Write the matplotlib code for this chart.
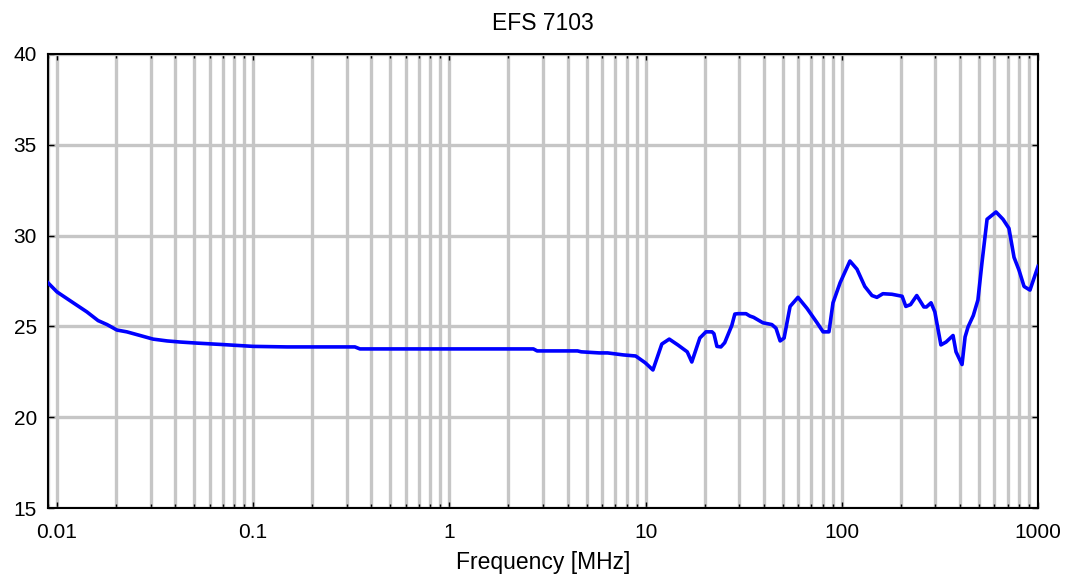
import matplotlib
matplotlib.use("Agg")
import matplotlib.pyplot as plt
from matplotlib.ticker import LogLocator, FixedLocator, NullFormatter

plt.rcParams['font.family'] = ['Liberation Sans', 'DejaVu Sans']

title = "EFS 7103"
xlabel = "Frequency [MHz]"

freq = [0.009, 0.01, 0.0121, 0.0142, 0.0162, 0.018, 0.0202, 0.0227, 0.0265, 0.0309,
        0.0364, 0.0424, 0.0517, 0.070, 0.0999, 0.149, 0.277, 0.33, 0.35, 2.68,
        2.8, 4.5, 4.7, 5.8, 6.4, 7.7, 8.9, 9.95, 10.9, 12.1,
        13.2, 14.6, 16.3, 17.2, 18.9, 20.3, 21.8, 22.3, 23.1, 24.2,
        25.3, 27.5, 28.5, 29.5, 32.5, 34.0, 35.5, 39.6, 44.0, 46.2,
        48.5, 50.8, 54.5, 59.8, 66.5, 74.8, 80.3, 86.0, 90.2, 98.0,
        110, 119.5, 131, 142.5, 151, 162, 180, 203, 212, 224,
        241, 262, 270, 285, 298, 320, 340, 369, 382, 410,
        425, 440, 468, 494, 518, 550, 611, 663, 711, 755,
        800, 849, 910, 1000]
level = [27.4, 26.9, 26.3, 25.8, 25.32, 25.1, 24.8, 24.7, 24.5, 24.3,
         24.2, 24.14, 24.08, 24.0, 23.9, 23.87, 23.87, 23.87, 23.76, 23.76,
         23.65, 23.65, 23.6, 23.54, 23.54, 23.43, 23.37, 23.0, 22.6, 24.03,
         24.3, 23.98, 23.6, 23.04, 24.36, 24.7, 24.7, 24.6, 23.9, 23.87,
         24.1, 25.05, 25.68, 25.7, 25.7, 25.57, 25.5, 25.2, 25.1, 24.9,
         24.2, 24.36, 26.1, 26.6, 25.99, 25.2, 24.7, 24.7, 26.3, 27.4,
         28.6, 28.15, 27.2, 26.7, 26.6, 26.8, 26.77, 26.66, 26.1, 26.2,
         26.7, 26.07, 26.07, 26.3, 25.8, 23.98, 24.14, 24.5, 23.6, 22.9,
         24.42, 24.97, 25.6, 26.45, 28.5, 30.9, 31.3, 30.9, 30.4, 28.8,
         28.1, 27.2, 27.0, 28.3]

xticks = [0.01, 0.1, 1, 10, 100, 1000]
xticklabels = ["0.01", "0.1", "1", "10", "100", "1000"]
yticks = [15, 20, 25, 30, 35, 40]

fig = plt.figure(figsize=(10.67, 5.74), dpi=100)
ax = fig.add_axes([48/1067, 1-508/574, (1038-48)/1067, (508-54)/574])

ax.set_xscale('log')
ax.set_xlim(0.009, 1000)
ax.set_ylim(15, 40)

ax.xaxis.set_major_locator(FixedLocator(xticks))
ax.set_xticklabels(xticklabels)
ax.xaxis.set_minor_locator(LogLocator(base=10, subs=range(2, 10)))
ax.xaxis.set_minor_formatter(NullFormatter())
ax.set_yticks(yticks)

grid_kw = dict(color='#c6c6c6', linestyle='-', linewidth=2.4)
ax.grid(True, which='major', axis='both', **grid_kw)
ax.grid(True, which='minor', axis='x', **grid_kw)
ax.set_axisbelow(True)

ax.plot(freq, level, color='#0000ff', linewidth=2.6, zorder=3)

ax.tick_params(which='both', direction='in', top=True, right=True, labelsize=15, colors='black')
ax.tick_params(which='major', length=4, width=1)
ax.tick_params(which='minor', length=3, width=1)
ax.tick_params(axis='x', pad=11)
ax.tick_params(axis='y', pad=8)
for s in ax.spines.values():
    s.set_linewidth(1.5)
    s.set_color('black')

ax.set_title(title, fontsize=16.5, pad=17)
ax.set_xlabel(xlabel, fontsize=16.5, labelpad=6)

fig.savefig("out.png", dpi=100)
